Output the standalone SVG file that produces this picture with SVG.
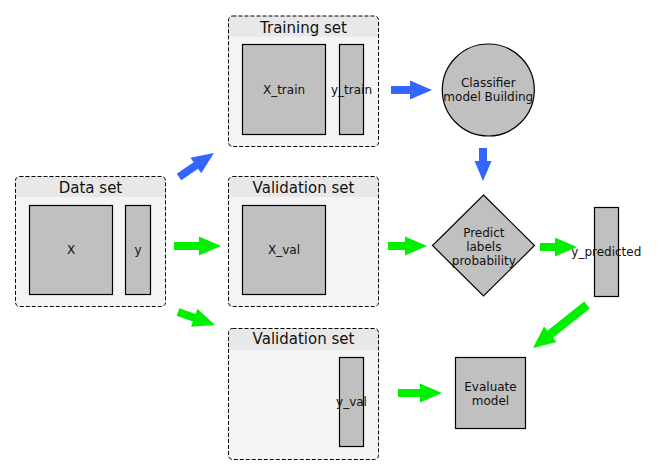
<svg xmlns="http://www.w3.org/2000/svg" width="659" height="475" viewBox="0 0 659 475">
<style>
.box{fill:none;stroke:#000;stroke-width:1;stroke-dasharray:4,2}
.bg{fill:#f4f4f4}
.hd{fill:#e8e8e8}
.blk{fill:#c0c0c0;stroke:#000;stroke-width:1.2}
.title{font-family:"DejaVu Sans",sans-serif;font-size:15px;fill:#111;text-anchor:middle}
.lbl{font-family:"DejaVu Sans",sans-serif;font-size:12px;fill:#111;text-anchor:middle}
.blue{fill:#3366ff}
.green{fill:#00f000}
</style>
<rect width="659" height="475" fill="#fff"/>
<g id="dataset">
<rect class="bg" x="15.5" y="176.5" width="150" height="130" rx="4"/>
<path class="hd" d="M15.5,197 V180.5 Q15.5,176.5 19.5,176.5 H161.5 Q165.5,176.5 165.5,180.5 V197 Z"/>
<rect class="box" x="15.5" y="176.5" width="150" height="130" rx="4"/>
<text class="title" x="90.5" y="193.3">Data set</text>
<rect class="blk" x="29.5" y="205.5" width="83" height="89"/>
<text class="lbl" x="71" y="254">X</text>
<rect class="blk" x="125.5" y="205.5" width="25" height="89"/>
<text class="lbl" x="138" y="254">y</text>
</g>
<g id="training">
<rect class="bg" x="228.5" y="16" width="150" height="130.5" rx="4"/>
<path class="hd" d="M228.5,36.7 V20 Q228.5,16 232.5,16 H374.5 Q378.5,16 378.5,20 V36.7 Z"/>
<rect class="box" x="228.5" y="16" width="150" height="130.5" rx="4"/>
<text class="title" x="303.5" y="32.7">Training set</text>
<rect class="blk" x="242.5" y="44.5" width="83" height="90"/>
<text class="lbl" x="284" y="93.5">X_train</text>
<rect class="blk" x="339.5" y="44.5" width="24" height="90"/>
<text class="lbl" x="351.5" y="93.5">y_train</text>
</g>
<g id="validation1">
<rect class="bg" x="228.5" y="176.5" width="150" height="130" rx="4"/>
<path class="hd" d="M228.5,197 V180.5 Q228.5,176.5 232.5,176.5 H374.5 Q378.5,176.5 378.5,180.5 V197 Z"/>
<rect class="box" x="228.5" y="176.5" width="150" height="130" rx="4"/>
<text class="title" x="303.5" y="193.3">Validation set</text>
<rect class="blk" x="242.5" y="205.5" width="83" height="89"/>
<text class="lbl" x="284" y="254">X_val</text>
</g>
<g id="validation2">
<rect class="bg" x="228.5" y="328.5" width="150" height="131" rx="4"/>
<path class="hd" d="M228.5,350 V332.5 Q228.5,328.5 232.5,328.5 H374.5 Q378.5,328.5 378.5,332.5 V350 Z"/>
<rect class="box" x="228.5" y="328.5" width="150" height="131" rx="4"/>
<text class="title" x="303.5" y="344">Validation set</text>
<rect class="blk" x="339.5" y="357.5" width="24" height="89"/>
<text class="lbl" x="351.5" y="406">y_val</text>
</g>
<g id="classifier">
<circle class="blk" cx="488.3" cy="90" r="46"/>
<text class="lbl" x="488.3" y="87.3">Classifier</text>
<text class="lbl" x="488.3" y="101.3">model Building</text>
</g>
<g id="predict">
<polygon class="blk" points="483.5,195 534.5,245.5 483.5,296 432.5,245.5"/>
<text class="lbl" x="483.8" y="236.5">Predict</text>
<text class="lbl" x="483.8" y="250.5">labels</text>
<text class="lbl" x="483.8" y="264.5">probability</text>
</g>
<g id="ypredicted">
<rect class="blk" x="594.5" y="207.5" width="24" height="89"/>
<text class="lbl" x="606.3" y="256">y_predicted</text>
</g>
<g id="evaluate">
<rect class="blk" x="455.5" y="357.5" width="70" height="71"/>
<text class="lbl" x="490.5" y="390.5">Evaluate</text>
<text class="lbl" x="490.5" y="404.5">model</text>
</g>
<g id="connectors">
<polygon class="blue" transform="translate(179,177) rotate(-34.4)" points="0,-4 20.4,-4 20.4,-9.5 42.4,0 20.4,9.5 20.4,4 0,4"/>
<polygon class="green" transform="translate(174,246)" points="0,-4 25,-4 25,-9.5 47,0 25,9.5 25,4 0,4"/>
<polygon class="green" transform="translate(178,312) rotate(19.4)" points="0,-4 17.2,-4 17.2,-9.5 39.2,0 17.2,9.5 17.2,4 0,4"/>
<polygon class="blue" transform="translate(391,90)" points="0,-4 19,-4 19,-9.5 41,0 19,9.5 19,4 0,4"/>
<polygon class="blue" transform="translate(483,148) rotate(90)" points="0,-4 13,-4 13,-8.5 33,0 13,8.5 13,4 0,4"/>
<polygon class="green" transform="translate(388,246)" points="0,-4 17,-4 17,-9.5 39,0 17,9.5 17,4 0,4"/>
<polygon class="green" transform="translate(540,247)" points="0,-4 15,-4 15,-9.5 37,0 15,9.5 15,4 0,4"/>
<polygon class="green" transform="translate(587,305) rotate(141.5)" points="0,-4.5 47,-4.5 47,-10 69,0 47,10 47,4.5 0,4.5"/>
<polygon class="green" transform="translate(398,393)" points="0,-4 22,-4 22,-9.5 44,0 22,9.5 22,4 0,4"/>
</g>
</svg>
